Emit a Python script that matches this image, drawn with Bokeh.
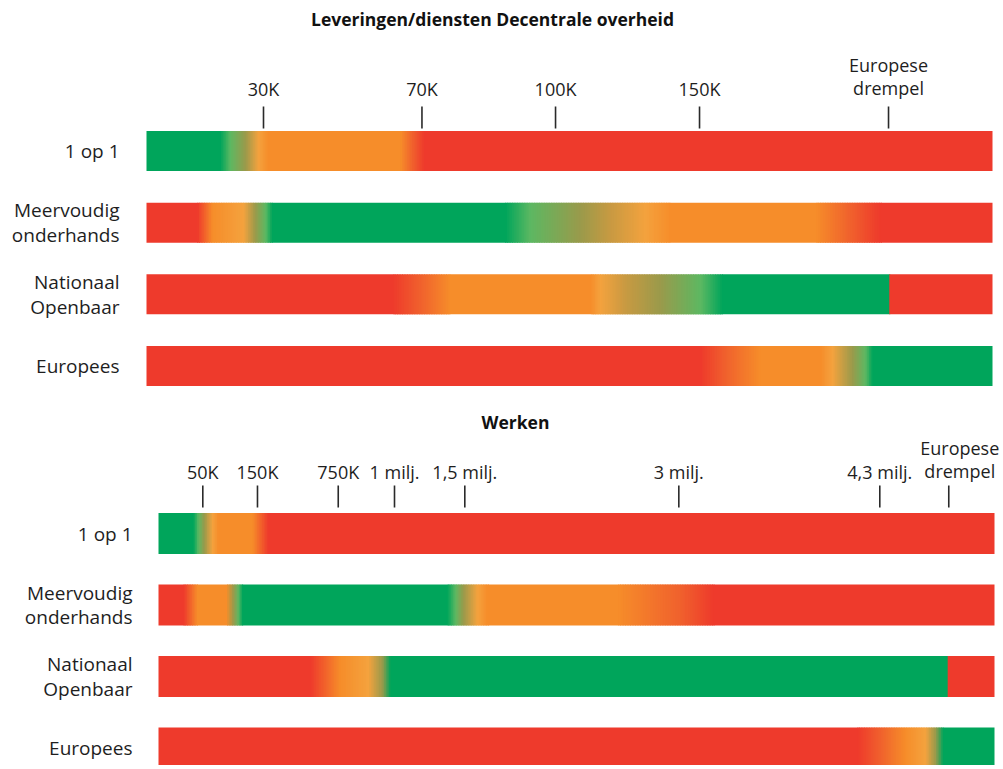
import numpy as np
from bokeh.plotting import figure
from bokeh.layouts import column
from bokeh.models import Range1d
from bokeh.core.properties import value
from bokeh.embed import file_html
from bokeh.resources import INLINE

# ------------------------------------------------------------------ data
categories = ["1 op 1", "Meervoudig\nonderhands", "Nationaal\nOpenbaar", "Europees"]

lev_title = "Leveringen/diensten Decentrale overheid"
lev_tick_labels = ["30K", "70K", "100K", "150K", "Europese\ndrempel"]
lev_tick_pos = [13.83, 32.56, 48.35, 65.37, 87.71]          # % of bar length

# colour stops along each bar (% of bar length, colour key)
lev_stop_pos = [
    [0, 8.75, 9.93, 11.70, 13.24, 14.42, 30.02, 31.44, 32.86, 100],
    [0, 6.03, 7.80, 11.47, 12.88, 14.07, 14.89, 42.43, 45.39, 51.30, 54.85, 58.98, 61.94, 79.08, 83.21, 86.76, 100],
    [0, 29.08, 32.39, 35.93, 52.48, 53.66, 56.62, 60.76, 65.48, 68.09, 87.71, 87.71, 100],
    [0, 65.48, 68.44, 72.58, 79.67, 81.09, 83.45, 84.99, 85.82, 100],
]
lev_stop_col = [
    ["G", "G", "LG", "OL", "LO", "O", "O", "OR", "R", "R"],
    ["R", "R", "O", "LO", "OL", "LG", "G", "G", "LG", "OL", "TA", "LO", "O", "O", "OR", "R", "R"],
    ["R", "R", "OR", "O", "O", "LO", "TA", "OL", "LG", "G", "G", "R", "R"],
    ["R", "R", "OR", "O", "O", "LO", "OL", "LG", "G", "G"],
]

wer_title = "Werken"
wer_tick_labels = ["50K", "150K", "750K", "1 milj.", "1,5 milj.", "3 milj.", "4,3 milj.", "Europese\ndrempel"]
wer_tick_pos = [5.30, 11.84, 21.50, 28.23, 36.64, 62.24, 86.28, 94.53]

wer_stop_pos = [
    [0, 4.19, 4.78, 5.50, 6.46, 7.18, 11.24, 13.16, 100],
    [0, 2.99, 4.67, 8.13, 8.97, 9.57, 10.05, 34.57, 35.53, 36.48, 38.16, 39.35, 54.90, 62.44, 66.39, 100],
    [0, 18.18, 21.77, 25.12, 26.79, 27.75, 94.50, 94.50, 100],
    [0, 83.61, 86.36, 89.35, 91.75, 92.94, 93.90, 100],
]
wer_stop_col = [
    ["G", "G", "LG", "OL", "LO", "O", "O", "R", "R"],
    ["R", "R", "O", "O", "OL", "LG", "G", "G", "LG", "OL", "LO", "O", "O", "OR", "R", "R"],
    ["R", "R", "O", "LO", "OL", "G", "G", "R", "R"],
    ["R", "R", "OR", "O", "LO", "OL", "G", "G"],
]

# ------------------------------------------------------------------ style
PALETTE = {
    "G": "#00A55B", "LG": "#5DB862", "OL": "#9A9A4B", "TA": "#C89A42",
    "LO": "#F4A23E", "O": "#F68D2A", "OR": "#F0612D", "R": "#EE3A2C",
}
FONT = value("Open Sans")
TXT = "#1e1e1e"
FIG_W = 1000
PAGE_X0 = 0


def hex2rgb(h):
    h = h.lstrip("#")
    return np.array([int(h[i:i + 2], 16) for i in (0, 2, 4)], dtype=float)


def gradient_slices(pos, cols, step=0.2):
    pos = np.asarray(pos, float)
    rgbs = [hex2rgb(PALETTE[c]) for c in cols]
    lefts = np.arange(0, 100, step)
    out_l, out_r, out_c = [], [], []
    for l in lefts:
        c = l + step / 2
        i = np.searchsorted(pos, c, side="right") - 1
        i = min(max(i, 0), len(pos) - 2)
        a, b = pos[i], pos[i + 1]
        t = 0 if b == a else (c - a) / (b - a)
        t = min(max(t, 0), 1)
        rgb = rgbs[i] * (1 - t) + rgbs[i + 1] * t
        hx = "#%02x%02x%02x" % tuple(int(round(v)) for v in rgb)
        if out_c and out_c[-1] == hx:
            out_r[-1] = l + step
        else:
            out_l.append(l)
            out_r.append(l + step)
            out_c.append(hx)
    # slight overlap to hide anti-aliasing seams
    out_r2 = [min(r + step * 0.6, 100) if k < len(out_r) - 1 else r for k, r in enumerate(out_r)]
    return out_l, out_r2, out_c


def make_panel(title, tick_labels, tick_pos, stop_pos, stop_col, L):
    ppu = (L["bar_right"] - L["bar_left"]) / 100.0
    X = lambda px: (px - L["bar_left"]) / ppu
    Y = lambda py: (py - L["row0"]) / L["row_step"]
    h = L["fig_bottom"] - L["fig_top"]
    p = figure(width=FIG_W, height=h, output_backend="svg", toolbar_location=None,
               x_range=Range1d(X(PAGE_X0), X(PAGE_X0 + FIG_W)),
               y_range=Range1d(Y(L["fig_bottom"]), Y(L["fig_top"])),
               x_axis_location=None, y_axis_location=None, min_border=0,
               outline_line_color=None, background_fill_color="white",
               border_fill_color="white")
    p.grid.visible = False

    half = L["bar_h"] / 2 / L["row_step"]
    for i in range(len(categories)):
        ls, rs, cs = gradient_slices(stop_pos[i], stop_col[i])
        p.quad(left=ls, right=rs, top=[i - half] * len(ls), bottom=[i + half] * len(ls),
               fill_color=cs, line_color=None)

    # category labels
    p.text(x=[X(L["cat_right"])] * len(categories), y=list(range(len(categories))),
           text=categories, text_align="right", text_baseline="middle",
           text_font=FONT, text_font_size="19px", text_color=TXT, text_line_height=0.94)

    # ticks
    p.segment(x0=tick_pos, x1=tick_pos, y0=[Y(L["tick_top"])] * len(tick_pos),
              y1=[Y(L["tick_bot"])] * len(tick_pos), line_color="#2a2a2a", line_width=1.6)
    lx = [t + d / ppu for t, d in zip(tick_pos, L["label_dx"])]
    p.text(x=lx, y=[Y(L["label_bottom"])] * len(tick_pos), text=tick_labels,
           text_align="center", text_baseline="bottom", text_font=FONT,
           text_font_size="18px", text_color=TXT, text_line_height=0.98)

    # title
    p.text(x=[X(L["title_x"])], y=[Y(L["title_y"])], text=[title], text_align="center",
           text_baseline="middle", text_font=FONT, text_font_style="bold",
           text_font_size="17.5px", text_color="#111111")
    return p


LAY_TOP = dict(fig_top=0, fig_bottom=400, bar_left=146, bar_right=992, row0=150.5,
               row_step=71.67, bar_h=40, tick_top=106, tick_bot=128, label_bottom=100,
               title_x=492, title_y=18, cat_right=119, label_dx=[0, 0, 0, 0, 0])
LAY_BOT = dict(fig_top=400, fig_bottom=765, bar_left=158, bar_right=994, row0=533,
               row_step=71.5, bar_h=41, tick_top=485, tick_bot=507, label_bottom=483,
               title_x=515, title_y=421, cat_right=132, label_dx=[0, 0, 0, 0, 0, 0, 0, 11])

p1 = make_panel(lev_title, lev_tick_labels, lev_tick_pos, lev_stop_pos, lev_stop_col, LAY_TOP)
p2 = make_panel(wer_title, wer_tick_labels, wer_tick_pos, wer_stop_pos, wer_stop_col, LAY_BOT)

layout = column(p1, p2, spacing=0)
open("out.html", "w").write(file_html(layout, INLINE))
